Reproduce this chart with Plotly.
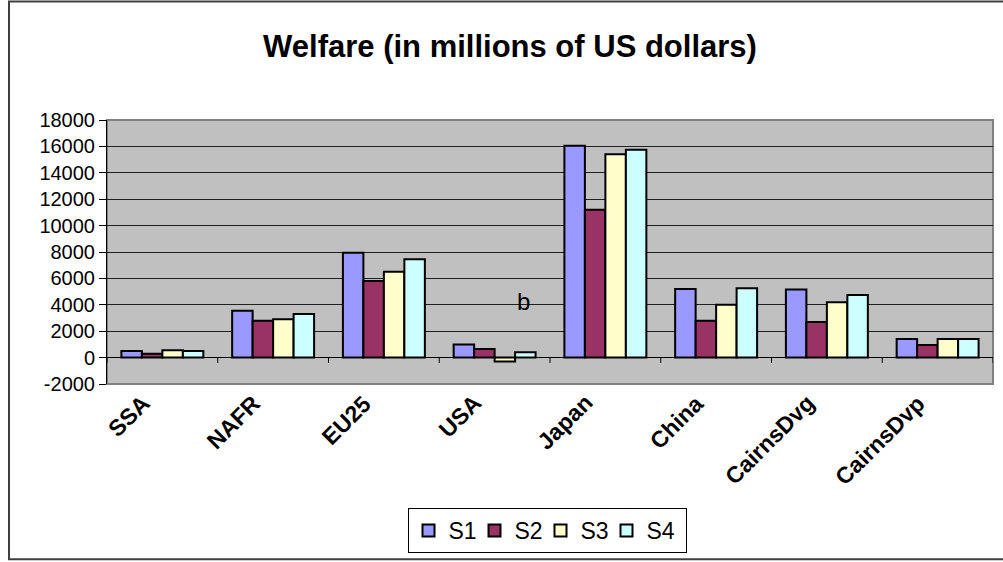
import plotly.graph_objects as go

categories = ["SSA", "NAFR", "EU25", "USA", "Japan", "China", "CairnsDvg", "CairnsDvp"]
s1 = [500, 3550, 7950, 1000, 16050, 5200, 5150, 1400]
s2 = [300, 2800, 5800, 650, 11200, 2800, 2700, 950]
s3 = [550, 2900, 6500, -300, 15400, 4000, 4200, 1400]
s4 = [500, 3300, 7450, 400, 15750, 5250, 4750, 1400]
series_names = ["S1", "S2", "S3", "S4"]
series_values = [s1, s2, s3, s4]
colors = ["#9999FF", "#993366", "#FFFFCC", "#CCFFFF"]
y_ticks = list(range(-2000, 18001, 2000))
y_ticktext = [str(v) for v in y_ticks]

W, H = 1003, 562
L, R, T, B = 107, 10, 120, 177
pw, ph = W - L - R, H - T - B
FONT = "Arial, Liberation Sans, sans-serif"

fig = go.Figure()
n_series = len(series_names)
for k, (name, vals, c) in enumerate(zip(series_names, series_values, colors)):
    fig.add_trace(go.Bar(
        x=categories, y=vals, name=name,
        marker=dict(color=c, line=dict(color="black", width=2)),
        legendwidth=(34 if k == n_series - 1 else None),
    ))

shapes = []
# tick marks between categories on the zero line
for i in range(len(categories) + 1):
    shapes.append(dict(type="line", xref="x", yref="y",
                       x0=i - 0.5, x1=i - 0.5, y0=0, y1=-400,
                       line=dict(color="black", width=1)))
# plot-area border
shapes.append(dict(type="rect", xref="paper", yref="paper",
                   x0=0, x1=1, y0=0, y1=1,
                   line=dict(color="#808080", width=2), layer="below"))
# outer chart border
shapes.append(dict(type="rect", xref="paper", yref="paper",
                   x0=(9 - L) / pw, x1=(W + 3 - L) / pw,
                   y0=-(H - 1 - (T + ph)) / ph, y1=(T + ph - 1) / ph,
                   line=dict(color="#404040", width=2), layer="below"))

# rotated category labels
annotations = []
for cat in categories:
    annotations.append(dict(x=cat, y=0, xref="x", yref="paper",
                            text="<b>" + cat + "</b>", textangle=-45,
                            showarrow=False, xanchor="right", yanchor="top",
                            xshift=-5, yshift=-3,
                            font=dict(size=23, family=FONT)))
annotations.append(dict(x=3.26, y=4250, xref="x", yref="y", text="b",
                        showarrow=False, font=dict(size=24)))

fig.update_layout(
    width=W, height=H,
    margin=dict(l=L, r=R, t=T, b=B),
    paper_bgcolor="white",
    plot_bgcolor="#C0C0C0",
    font=dict(family=FONT, color="black", size=19),
    title=dict(text="<b>Welfare (in millions of US dollars)</b>",
               x=510 / W, xanchor="center", xref="container",
               y=1 - 46 / H, yanchor="middle",
               font=dict(size=31, family=FONT)),
    barmode="group", bargap=0.26, bargroupgap=0,
    showlegend=True,
    legend=dict(orientation="h", x=(547 - L) / pw, xanchor="center",
                y=-(508 - (T + ph)) / ph, yanchor="top",
                bordercolor="black", borderwidth=1, bgcolor="white",
                font=dict(size=23), itemwidth=30, entrywidth=21,
                traceorder="normal"),
    shapes=shapes,
    annotations=annotations,
)
fig.update_xaxes(
    type="category", categoryorder="array", categoryarray=categories,
    range=[-0.5, len(categories) - 0.5],
    showticklabels=False, ticks="", showgrid=False, showline=False, zeroline=False,
)
fig.update_yaxes(
    range=[-2000, 18000], tickvals=y_ticks, ticktext=y_ticktext,
    ticks="outside", ticklen=7,
    tickcolor="black", showline=True, linecolor="black", linewidth=1,
    showgrid=True, gridcolor="#202020", gridwidth=1,
    zeroline=True, zerolinecolor="black", zerolinewidth=1,
    tickfont=dict(size=20),
)

fig.write_html("out.html", config={"displayModeBar": False},
               post_script="document.body.style.margin='0';")
